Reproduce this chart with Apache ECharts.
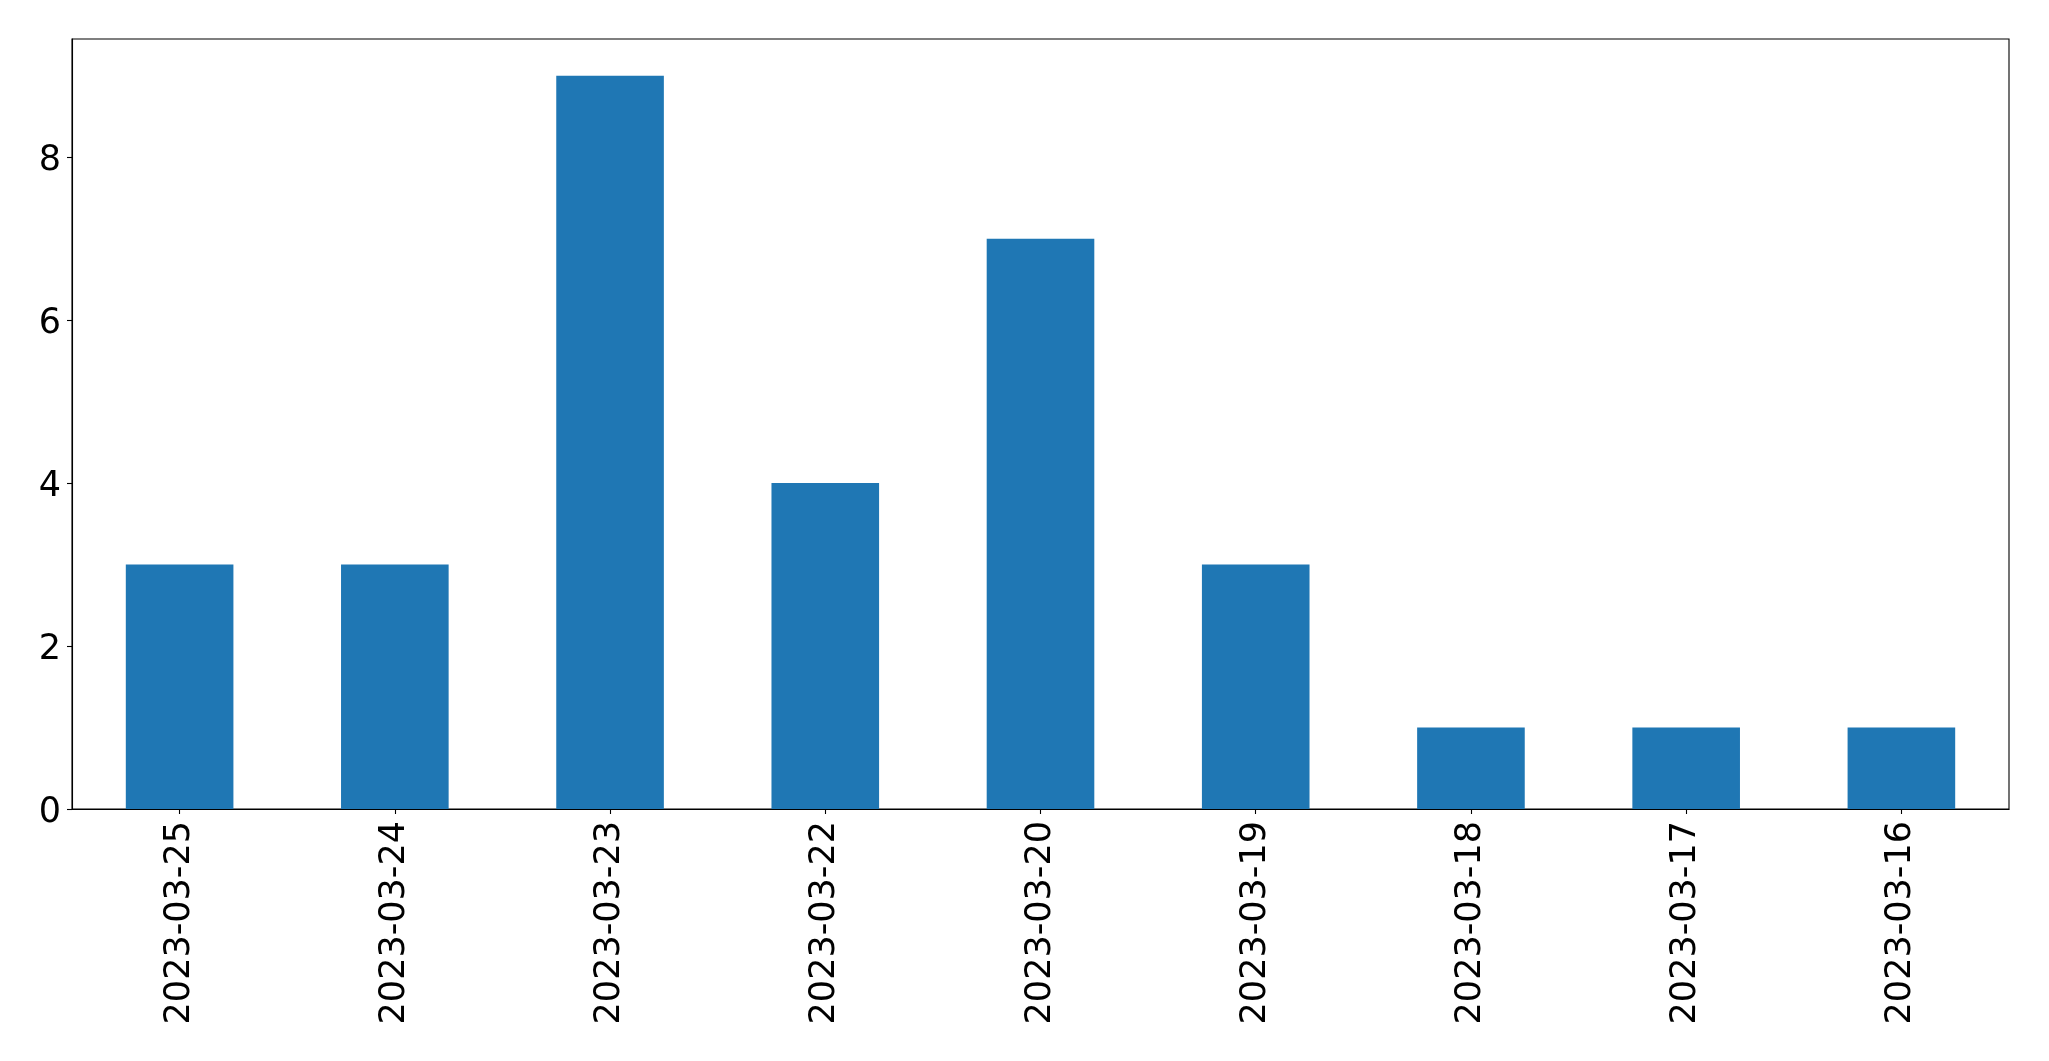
<!DOCTYPE html>
<html>
<head>
<meta charset="utf-8">
<script src="https://cdn.jsdelivr.net/npm/echarts@6/dist/echarts.min.js"></script>
<style>html,body{margin:0;padding:0;background:#fff;}#c{width:2049px;height:1061px;}</style>
</head>
<body>
<div id="c"></div>
<script>
const categories = ['2023-03-25','2023-03-24','2023-03-23','2023-03-22','2023-03-20','2023-03-19','2023-03-18','2023-03-17','2023-03-16'];
const values = [3,3,9,4,7,3,1,1,1];
const yTicks = [0,2,4,6,8];

const chart = echarts.init(document.getElementById('c'), null, {renderer:'canvas'});
const font = 'DejaVu Sans';
chart.setOption({
  animation: false,
  backgroundColor: '#fff',
  grid: {left: 72, right: 40, top: 39, bottom: 252, containLabel: false, show: true, borderColor: '#000', borderWidth: 1.1, backgroundColor: 'transparent'},
  xAxis: {
    type: 'category',
    data: categories,
    axisLine: {show: true, lineStyle: {color: '#000', width: 1.1}},
    axisTick: {show: true, alignWithLabel: true, length: 5, lineStyle: {color: '#000', width: 1.1}},
    axisLabel: {rotate: 90, margin: 12, fontFamily: font, fontSize: 35, color: '#000'},
    splitLine: {show: false}
  },
  yAxis: {
    type: 'value',
    min: 0, max: 9.45, interval: 2,
    axisLine: {show: true, lineStyle: {color: '#000', width: 1.1}},
    axisTick: {show: true, length: 5, customValues: yTicks, lineStyle: {color: '#000', width: 1.1}},
    axisLabel: {margin: 11, fontFamily: font, fontSize: 35, color: '#000', customValues: yTicks,
      formatter: v => yTicks.includes(v) ? '{n|' + v + '}' : '',
      rich: {n: {fontFamily: font, fontSize: 35, color: '#000', padding: [8, 0, 0, 0]}}},
    splitLine: {show: false}
  },
  series: [{
    type: 'bar',
    data: values,
    barWidth: '50%',
    itemStyle: {color: '#1f77b4'}
  }]
});
</script>
</body>
</html>
